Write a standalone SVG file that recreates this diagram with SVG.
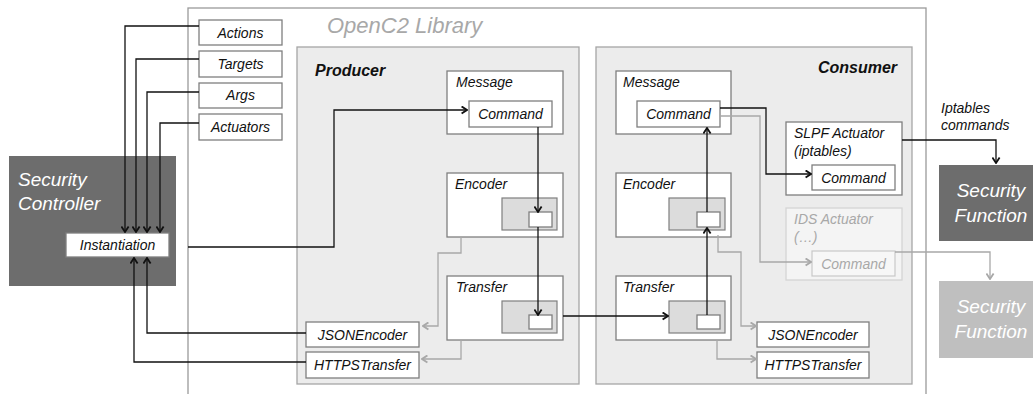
<svg xmlns="http://www.w3.org/2000/svg" width="1033" height="394" viewBox="0 0 1033 394">
  <style>
    text { font-family: "Liberation Sans", Arial, sans-serif; font-style: italic; }
    .lbl { font-size: 14px; fill: #111; }
    .mid { text-anchor: middle; }
    .box { fill: #fff; stroke: #7f7f7f; stroke-width: 1.3; }
    .panel { fill: #ececec; stroke: #a6a6a6; stroke-width: 1.3; }
    .slot { fill: #dcdcdc; stroke: #7f7f7f; stroke-width: 1.2; }
    .ghost { fill: #f4f4f4; stroke: #d4d4d4; stroke-width: 1.3; }
    .ghostin { fill: #f7f7f7; stroke: #c8c8c8; stroke-width: 1.2; }
    .ghosttxt { font-size: 14px; fill: #a8a8a8; }
    .head { font-size: 16px; font-weight: bold; fill: #111; }
    .big { font-size: 19px; fill: #fff; }
    .wire { fill: none; stroke: #111; stroke-width: 1.3; }
    .wire.arrow { marker-end: url(#arr); }
    .soft { fill: none; stroke: #a8a8a8; stroke-width: 1.3; marker-end: url(#arrGray); }
  </style>
  <defs>
    <marker id="arr" viewBox="0 0 10 10" refX="9" refY="5" markerWidth="9" markerHeight="9" markerUnits="userSpaceOnUse" orient="auto">
      <path d="M3,1 L9,5 L3,9" fill="none" stroke="#111" stroke-width="2"/>
    </marker>
    <marker id="arrGray" viewBox="0 0 10 10" refX="9" refY="5" markerWidth="9" markerHeight="9" markerUnits="userSpaceOnUse" orient="auto">
      <path d="M3,1 L9,5 L3,9" fill="none" stroke="#a8a8a8" stroke-width="2"/>
    </marker>
  </defs>

  <rect width="1033" height="394" fill="#fff"/>

  <!-- library frame -->
  <g id="library">
    <rect x="188" y="8" width="738" height="400" fill="none" stroke="#9a9a9a" stroke-width="1.3"/>
    <text x="327" y="33" font-size="22" fill="#a8a8a8">OpenC2 Library</text>
  </g>

  <!-- controller -->
  <g id="controller">
    <rect x="9" y="156" width="167" height="130" fill="#6d6d6d"/>
    <text class="big" x="18" y="186">Security</text>
    <text class="big" x="18" y="210">Controller</text>
  </g>
  <g id="instantiation">
    <rect class="box" x="66" y="233" width="103" height="24"/>
    <text class="lbl mid" x="117.5" y="250">Instantiation</text>
  </g>

  <!-- vocabulary boxes -->
  <g id="actions"><rect class="box" x="199" y="20" width="83" height="25"/><text class="lbl mid" x="240.5" y="37.5">Actions</text></g>
  <g id="targets"><rect class="box" x="199" y="51" width="83" height="26"/><text class="lbl mid" x="240.5" y="68.5">Targets</text></g>
  <g id="args"><rect class="box" x="199" y="83" width="83" height="25"/><text class="lbl mid" x="240.5" y="100">Args</text></g>
  <g id="actuators"><rect class="box" x="199" y="114" width="83" height="26"/><text class="lbl mid" x="240.5" y="132">Actuators</text></g>

  <!-- producer -->
  <g id="producer">
    <rect class="panel" x="297" y="47" width="282" height="337"/>
    <text class="head" x="315" y="76">Producer</text>
  </g>
  <g id="p-message">
    <rect class="box" x="447" y="71" width="116" height="63"/>
    <text class="lbl" x="456" y="87">Message</text>
    <rect class="box" x="469" y="101" width="83" height="26"/>
    <text class="lbl mid" x="510.5" y="119">Command</text>
  </g>
  <g id="p-encoder">
    <rect class="box" x="447" y="173" width="116" height="64"/>
    <text class="lbl" x="455" y="189">Encoder</text>
    <rect class="slot" x="502" y="198" width="55" height="32"/>
    <rect class="box" x="529" y="212" width="23" height="15"/>
  </g>
  <g id="p-transfer">
    <rect class="box" x="447" y="276" width="116" height="64"/>
    <text class="lbl" x="456" y="292">Transfer</text>
    <rect class="slot" x="502" y="301" width="55" height="32"/>
    <rect class="box" x="529" y="315" width="23" height="14"/>
  </g>
  <g id="p-json"><rect class="box" x="306" y="322" width="113" height="25"/><text class="lbl mid" x="362.5" y="340">JSONEncoder</text></g>
  <g id="p-https"><rect class="box" x="306" y="352" width="113" height="26"/><text class="lbl mid" x="362.5" y="370">HTTPSTransfer</text></g>

  <!-- consumer -->
  <g id="consumer">
    <rect class="panel" x="596" y="47" width="316" height="337"/>
    <text class="head" x="897" y="73" text-anchor="end">Consumer</text>
  </g>
  <g id="c-message">
    <rect class="box" x="616" y="71" width="115" height="63"/>
    <text class="lbl" x="623" y="87">Message</text>
    <rect class="box" x="637" y="101" width="83" height="26"/>
    <text class="lbl mid" x="678.5" y="119">Command</text>
  </g>
  <g id="c-encoder">
    <rect class="box" x="616" y="173" width="115" height="64"/>
    <text class="lbl" x="623" y="189">Encoder</text>
    <rect class="slot" x="669" y="198" width="56" height="32"/>
    <rect class="box" x="697" y="212" width="23" height="15"/>
  </g>
  <g id="c-transfer">
    <rect class="box" x="616" y="276" width="115" height="64"/>
    <text class="lbl" x="623" y="292">Transfer</text>
    <rect class="slot" x="669" y="301" width="56" height="32"/>
    <rect class="box" x="697" y="315" width="23" height="14"/>
  </g>
  <g id="c-json"><rect class="box" x="757" y="322" width="112" height="25"/><text class="lbl mid" x="813" y="340">JSONEncoder</text></g>
  <g id="c-https"><rect class="box" x="757" y="352" width="112" height="26"/><text class="lbl mid" x="813" y="370">HTTPSTransfer</text></g>

  <g id="slpf">
    <rect class="box" x="786" y="122" width="116" height="73"/>
    <text class="lbl" x="794" y="138">SLPF Actuator</text>
    <text class="lbl" x="794" y="156">(iptables)</text>
    <rect class="box" x="812" y="165" width="83" height="25"/>
    <text class="lbl mid" x="853.5" y="183">Command</text>
  </g>
  <g id="ids">
    <rect class="ghost" x="786" y="208" width="116" height="72"/>
    <text class="ghosttxt" x="794" y="224">IDS Actuator</text>
    <text class="ghosttxt" x="794" y="242">(…)</text>
    <rect class="ghostin" x="812" y="251" width="83" height="25"/>
    <text class="ghosttxt mid" x="853.5" y="269">Command</text>
  </g>

  <!-- security functions -->
  <g id="sf-firewall">
    <rect x="939" y="165" width="94" height="76" fill="#6d6d6d"/>
    <text class="big mid" x="991" y="197">Security</text>
    <text class="big mid" x="991" y="222">Function</text>
  </g>
  <g id="sf-ids">
    <rect x="939" y="281" width="94" height="77" fill="#bfbfbf"/>
    <text class="big mid" x="991" y="313">Security</text>
    <text class="big mid" x="991" y="338">Function</text>
  </g>
  <g id="iptables-label">
    <text class="lbl" x="941" y="113">Iptables</text>
    <text class="lbl" x="941" y="130">commands</text>
  </g>

  <!-- connectors -->
  <g id="connectors">
    <polyline class="wire arrow" points="199,26 125,26 125,232"/>
    <polyline class="wire arrow" points="199,59 136,59 136,232"/>
    <polyline class="wire arrow" points="199,92 147,92 147,232"/>
    <polyline class="wire arrow" points="199,123 160,123 160,232"/>
    <polyline class="wire arrow" points="306,333 147,333 147,258"/>
    <polyline class="wire arrow" points="306,362 134,362 134,258"/>
    <polyline class="wire arrow" points="188,247 334,247 334,110 467,110"/>
    <polyline class="wire arrow" points="538,127 538,212"/>
    <polyline class="wire arrow" points="538,227 538,315"/>
    <polyline class="wire arrow" points="563,316 668,316"/>
    <polyline class="wire arrow" points="707,315 707,228"/>
    <polyline class="wire arrow" points="707,212 707,128"/>
    <polyline class="wire arrow" points="720,108 766,108 766,174 811,174"/>
    <polyline class="wire arrow" points="902,140 996,140 996,163"/>
    <polyline class="soft" points="720,116 760,116 760,262 811,262"/>
    <polyline class="soft" points="895,252 990,252 990,279"/>
    <polyline class="soft" points="461,237 461,253 438,253 438,326 423,326"/>
    <polyline class="soft" points="461,340 461,359 422,359"/>
    <polyline class="soft" points="718,235 718,252 741,252 741,326 756,326"/>
    <polyline class="soft" points="717,340 717,359 756,359"/>
  </g>
</svg>
